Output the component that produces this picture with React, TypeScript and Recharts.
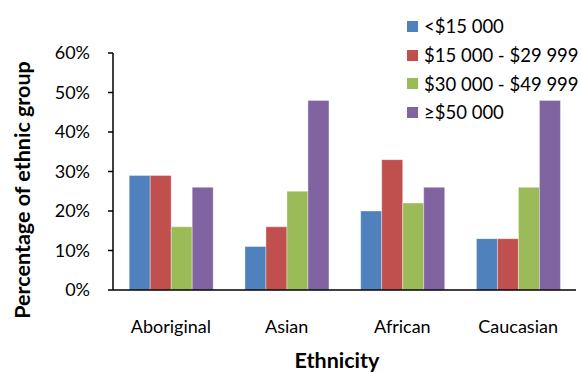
import {Bar, BarChart, XAxis, YAxis, Label} from 'recharts';

const ethnicities = ['Aboriginal', 'Asian', 'African', 'Caucasian'];
const under15k = [29, 11, 20, 13];
const from15to30k = [29, 16, 33, 13];
const from30to50k = [16, 25, 22, 26];
const over50k = [26, 48, 26, 48];
const yTicks = [0, 10, 20, 30, 40, 50, 60];

const series = [
    {key: 'a', name: '<$15 000', color: '#4F81BD', values: under15k},
    {key: 'b', name: '$15 000 - $29 999', color: '#C0504D', values: from15to30k},
    {key: 'c', name: '$30 000 - $49 999', color: '#9BBB59', values: from30to50k},
    {key: 'd', name: '≥$50 000', color: '#8064A2', values: over50k},
];

const data = ethnicities.map((name, i) => {
    const row: Record<string, string | number> = {name};
    series.forEach(s => {
        row[s.key] = s.values[i];
    });
    return row;
});

const FONT = 'Lato, sans-serif';
const titleStyle = {fill: '#000', fontSize: 21.5, fontWeight: 'bold' as const, fontFamily: FONT};

const LegendBox = () => (
    <div style={{position: 'absolute', left: 407, top: 12, fontFamily: FONT, fontSize: 18.5, color: '#000'}}>
        {series.map(s => (
            <div key={s.key} style={{display: 'flex', alignItems: 'center', height: 28.7}}>
                <span style={{display: 'inline-block', width: 11, height: 11, background: s.color, marginRight: 6}}/>
                <span>{s.name}</span>
            </div>
        ))}
    </div>
);

export default function App() {
    return (
        <div style={{position: 'absolute', left: 0, top: 0, width: 581, height: 373, background: '#fff'}}>
            <BarChart
                width={581}
                height={373}
                data={data}
                margin={{top: 53, right: 5, left: 0, bottom: 5}}
                barCategoryGap="14%"
                barGap={0}
            >
                <XAxis
                    dataKey="name"
                    tickLine={false}
                    axisLine={{stroke: '#000', strokeWidth: 1.5}}
                    tick={{fill: '#000', fontSize: 18, fontFamily: FONT}}
                    tickMargin={24}
                    height={78}
                >
                    <Label content={() => (
                        <text x={337} y={362} textAnchor="middle" dominantBaseline="middle" style={titleStyle}>
                            Ethnicity
                        </text>
                    )}/>
                </XAxis>
                <YAxis
                    domain={[0, 60]}
                    ticks={yTicks}
                    interval={0}
                    tickFormatter={(v: number) => `${v}%`}
                    width={113}
                    axisLine={{stroke: '#000', strokeWidth: 1.5}}
                    tickLine={{stroke: '#000', strokeWidth: 1.5}}
                    tickSize={5}
                    tickMargin={18}
                    tick={{fill: '#000', fontSize: 18, fontFamily: FONT}}
                >
                    <Label content={() => (
                        <text x={24} y={190} transform="rotate(-90 24 190)" textAnchor="middle"
                              dominantBaseline="middle" style={titleStyle}>
                            Percentage of ethnic group
                        </text>
                    )}/>
                </YAxis>
                {series.map(s => (
                    <Bar key={s.key} dataKey={s.key} name={s.name} fill={s.color}
                         stroke="rgba(255,255,255,0.35)" strokeWidth={1} isAnimationActive={false}/>
                ))}
            </BarChart>
            <LegendBox/>
        </div>
    );
}
